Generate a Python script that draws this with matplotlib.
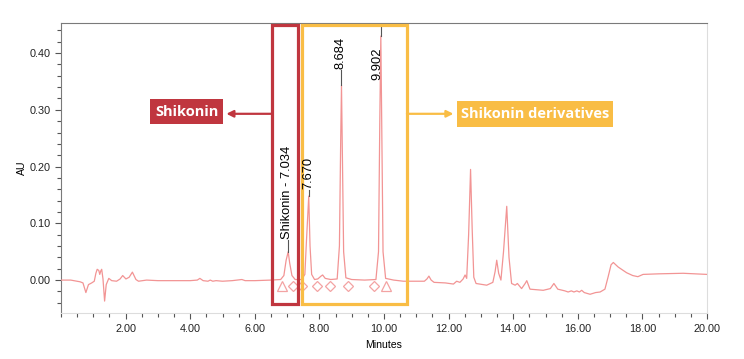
import matplotlib.pyplot as plt
from matplotlib.patches import Rectangle
from matplotlib.ticker import MultipleLocator, FormatStrFormatter

# chromatogram trace (minutes, AU)
minutes = [0.00, 0.30, 0.59, 0.68, 0.77, 0.85, 0.95, 1.03, 1.08, 1.12, 1.17, 1.20, 1.23, 1.26,
           1.30, 1.35, 1.40, 1.48, 1.57, 1.72, 1.83, 1.91, 2.01, 2.11, 2.21, 2.32, 2.40, 2.65,
           3.00, 3.50, 4.00, 4.22, 4.30, 4.40, 4.55, 4.62, 4.70, 4.80, 5.00, 5.30, 5.60, 5.70,
           6.00, 6.50, 6.80, 6.90, 6.97, 7.034, 7.08, 7.15, 7.25, 7.45, 7.55, 7.60, 7.670, 7.71,
           7.76, 7.85, 7.95, 8.05, 8.10, 8.18, 8.35, 8.55, 8.62, 8.66, 8.684, 8.71, 8.75, 8.82,
           9.00, 9.40, 9.75, 9.83, 9.87, 9.902, 9.93, 9.97, 10.05, 10.30, 10.60, 11.00, 11.25,
           11.33, 11.39, 11.46, 11.55, 11.90, 12.15, 12.25, 12.35, 12.45, 12.51, 12.56, 12.62,
           12.68, 12.73, 12.78, 12.85, 13.18, 13.37, 13.44, 13.49, 13.55, 13.62, 13.70, 13.80,
           13.87, 13.95, 14.06, 14.13, 14.26, 14.37, 14.42, 14.52, 14.93, 15.15, 15.26, 15.38,
           15.60, 15.70, 15.80, 15.88, 15.97, 16.05, 16.12, 16.20, 16.38, 16.55, 16.69, 16.84,
           16.94, 17.03, 17.10, 17.25, 17.51, 17.70, 17.86, 18.02, 18.50, 19.26, 20.00]
au = [0.000, 0.000, -0.003, -0.005, -0.022, -0.008, -0.005, -0.002, 0.012, 0.019, 0.017, 0.010, 0.016, 0.019,
      0.002, -0.037, -0.008, 0.003, -0.001, -0.002, 0.002, 0.008, 0.002, 0.005, 0.014, 0.001, -0.002, 0.000,
      -0.001, -0.001, -0.001, 0.000, 0.003, -0.001, -0.002, 0.000, -0.002, -0.001, -0.002, -0.001, 0.001, -0.001,
      -0.001, 0.000, 0.001, 0.008, 0.035, 0.050, 0.030, 0.008, 0.001, 0.001, 0.010, 0.070, 0.148, 0.060,
      0.010, 0.001, 0.002, 0.007, 0.009, 0.003, 0.001, 0.002, 0.060, 0.250, 0.343, 0.230, 0.050, 0.004,
      0.001, 0.000, 0.001, 0.050, 0.280, 0.430, 0.270, 0.050, 0.003, 0.000, -0.002, -0.002, -0.002,
      0.002, 0.007, 0.000, -0.004, -0.005, -0.007, -0.002, -0.004, 0.002, 0.009, 0.003, 0.080,
      0.195, 0.090, 0.005, -0.006, -0.009, -0.004, 0.015, 0.035, 0.012, 0.000, 0.050, 0.130,
      0.040, -0.006, -0.009, -0.006, -0.015, -0.006, -0.001, -0.016, -0.018, -0.015, -0.006, -0.016,
      -0.019, -0.021, -0.019, -0.021, -0.019, -0.021, -0.018, -0.022, -0.025, -0.022, -0.021, -0.016,
      0.006, 0.027, 0.031, 0.023, 0.013, 0.008, 0.006, 0.010, 0.011, 0.012, 0.010]

# integration markers on the baseline
triangle_t = [6.83, 10.06]
diamond_t = [7.19, 7.45, 7.94, 8.33, 8.88, 9.69]
marker_au = -0.010

# peak annotations
peak_labels = ["Shikonin - 7.034", "7.670", "8.684", "9.902"]
peak_t = [7.034, 7.670, 8.684, 9.902]
peak_au = [0.050, 0.148, 0.343, 0.430]

line_col = '#f29494'
red = '#c0363f'
yellow = '#f9bd45'

plt.rcParams['font.family'] = ['Liberation Sans', 'DejaVu Sans']

fig = plt.figure(figsize=(7.44, 3.59), dpi=100)
ax = fig.add_axes([61 / 744, 46 / 359, 646 / 744, 290 / 359])

ax.plot(minutes, au, color=line_col, lw=0.9, zorder=3)
ax.plot(triangle_t, [marker_au] * len(triangle_t), ls='none', marker='^', ms=6.5,
        mfc='none', mec='#f3a3a3', mew=0.9, zorder=4)
ax.plot(diamond_t, [marker_au] * len(diamond_t), ls='none', marker='D', ms=5.5,
        mfc='none', mec='#f3a3a3', mew=0.9, zorder=4)

# leader lines and rotated labels
label_pos = [(7.00, 0.072), (7.66, 0.160), (8.64, 0.372), (9.81, 0.352)]
leader_top = [0.070, 0.158, 0.370, 0.447]
for lab, t, h, (tx, ty), lt in zip(peak_labels, peak_t, peak_au, label_pos, leader_top):
    ax.plot([t, t], [h, lt], color='#555555', lw=0.8, zorder=5)
    ax.text(tx, ty, lab, rotation=90, ha='center', va='bottom', fontsize=9.3, zorder=9)

ax.set_xlim(0, 20)
ax.set_ylim(-0.058, 0.453)

# highlight boxes
ax.add_patch(Rectangle((6.53, -0.042), 7.34 - 6.53, 0.449 + 0.042, fill=False,
                       ec=red, lw=2.3, zorder=7, clip_on=False))
ax.add_patch(Rectangle((7.45, -0.042), 10.71 - 7.45, 0.449 + 0.042, fill=False,
                       ec=yellow, lw=2.3, zorder=7, clip_on=False))

# callout labels
ax.add_patch(Rectangle((2.76, 0.275), 5.02 - 2.76, 0.319 - 0.275, fc=red, ec='none', zorder=7))
ax.text((2.76 + 5.02) / 2, 0.297, "Shikonin", color='white', fontsize=10.5,
        fontweight='bold', family='Open Sans', ha='center', va='center', zorder=8)
ax.add_patch(Rectangle((12.27, 0.270), 17.09 - 12.27, 0.316 - 0.270, fc=yellow, ec='none', zorder=7))
ax.text((12.27 + 17.09) / 2, 0.293, "Shikonin derivatives", color='white', fontsize=10.5,
        fontweight='bold', family='Open Sans', ha='center', va='center', zorder=8)

ax.annotate('', xy=(5.12, 0.293), xytext=(6.53, 0.293), zorder=7,
            arrowprops=dict(arrowstyle='-|>', color=red, lw=1.6, mutation_scale=10,
                            shrinkA=0, shrinkB=0))
ax.annotate('', xy=(12.15, 0.293), xytext=(10.71, 0.293), zorder=7,
            arrowprops=dict(arrowstyle='-|>', color=yellow, lw=1.6, mutation_scale=10,
                            shrinkA=0, shrinkB=0))

# axes styling
ax.xaxis.set_major_locator(MultipleLocator(2))
ax.xaxis.set_minor_locator(MultipleLocator(0.5))
ax.xaxis.set_major_formatter(FormatStrFormatter('%.2f'))
ax.yaxis.set_major_locator(MultipleLocator(0.1))
ax.yaxis.set_minor_locator(MultipleLocator(0.02))
ax.yaxis.set_major_formatter(FormatStrFormatter('%.2f'))
ax.set_xticks([2, 4, 6, 8, 10, 12, 14, 16, 18, 20])
ax.tick_params(which='both', direction='out', colors='#555555', labelcolor='#222222',
               labelsize=7.8, width=0.8)
ax.tick_params(which='major', length=4)
ax.tick_params(which='minor', length=3)
ax.tick_params(axis='x', which='both', pad=4)
for side in ['left', 'top']:
    ax.spines[side].set_color('#7a7a7a')
for side in ['right', 'bottom']:
    ax.spines[side].set_color('#dddddd')

ax.set_xlabel("Minutes", fontsize=7.6, labelpad=4)
ax.set_ylabel("AU", fontsize=7.6, labelpad=2)

fig.savefig('out.png', dpi=100)
